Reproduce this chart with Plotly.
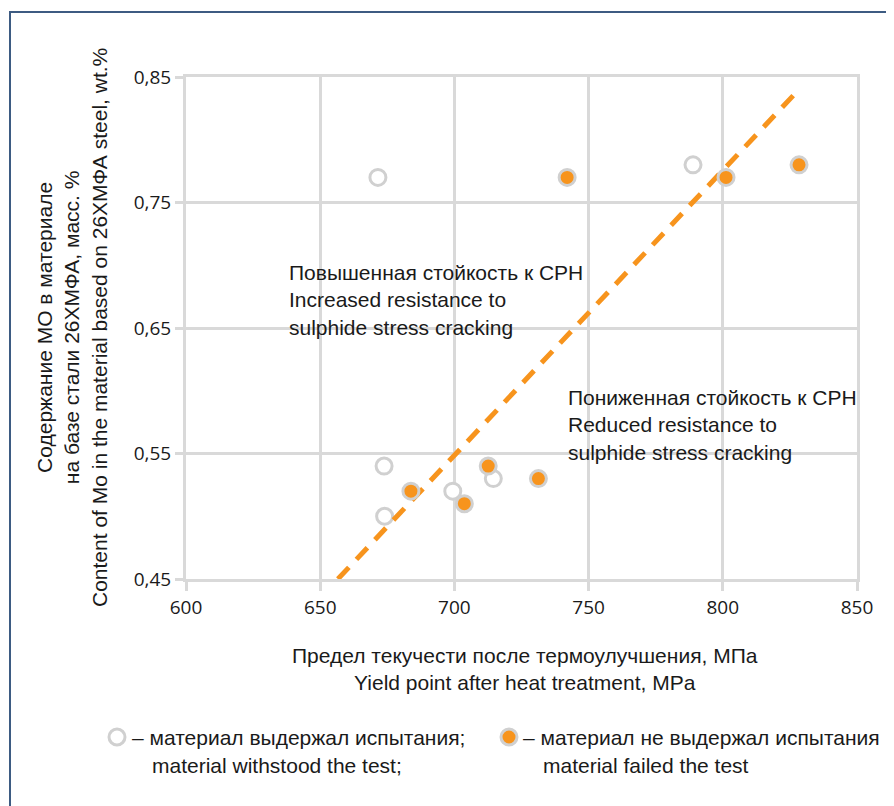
import plotly.graph_objects as go

# Data
withstood_x = [671.5, 788.9, 673.8, 674.0, 699.4, 714.5]
withstood_y = [0.77, 0.78, 0.54, 0.50, 0.52, 0.53]

failed_x = [742.0, 801.2, 828.4, 712.6, 683.8, 703.7, 731.3]
failed_y = [0.77, 0.77, 0.78, 0.54, 0.52, 0.51, 0.53]

trend_x = [656.6, 828.8]
trend_y = [0.45, 0.841]

x_ticks = [600, 650, 700, 750, 800, 850]
y_ticks = [0.45, 0.55, 0.65, 0.75, 0.85]
y_tick_labels = ["0,45", "0,55", "0,65", "0,75", "0,85"]

ORANGE = "#F7941D"
GRID = "#D9D9D9"
RING = "#D0D0D0"
TXT = "#1a1a1a"
NARROW = "Liberation Sans Narrow, Arial Narrow, sans-serif"
TICKF = "Open Sans, Noto Sans, sans-serif"

fig = go.Figure()

fig.add_trace(go.Scatter(
    x=withstood_x, y=withstood_y, mode="markers",
    marker=dict(size=16, color="white", line=dict(color=RING, width=3)),
    showlegend=False, hoverinfo="skip"))

fig.add_trace(go.Scatter(
    x=trend_x, y=trend_y, mode="lines",
    line=dict(color=ORANGE, width=5, dash="16px,11px"),
    showlegend=False, hoverinfo="skip"))

fig.add_trace(go.Scatter(
    x=failed_x, y=failed_y, mode="markers",
    marker=dict(size=16, color=ORANGE, line=dict(color=RING, width=3)),
    showlegend=False, hoverinfo="skip"))

# page body has an 8px margin; figure is placed at (8, 8)
OFF = 8
W, H = 894 - OFF, 806 - OFF
L, T = 186 - OFF, 77 - OFF
R, B = 37, 227
pw, ph = W - L - R, H - T - B

def px(xp):
    return (xp - OFF - L) / pw

def py(yp):
    return (H - B - (yp - OFF)) / ph

annotations = [
    dict(x=637.6, y=0.672, xref="x", yref="y", xanchor="left", yanchor="middle",
         align="left", showarrow=False,
         text="Повышенная стойкость к СРН<br>Increased resistance to<br>sulphide stress cracking",
         font=dict(family=NARROW, size=21, color=TXT)),
    dict(x=741.6, y=0.5727, xref="x", yref="y", xanchor="left", yanchor="middle",
         align="left", showarrow=False,
         text="Пониженная стойкость к СРН<br>Reduced resistance to<br>sulphide stress cracking",
         font=dict(family=NARROW, size=21, color=TXT)),
    dict(x=px(72), y=py(328), xref="paper", yref="paper", xanchor="center", yanchor="middle",
         textangle=-90, showarrow=False, align="center",
         text="Содержание МО в материале<br>на базе стали 26ХМФА, масс. %<br>Content of Mo in the material based on 26ХМФА steel, wt.%",
         font=dict(family=NARROW, size=21, color=TXT)),
    dict(x=px(525), y=py(669), xref="paper", yref="paper", xanchor="center", yanchor="middle",
         showarrow=False, align="center",
         text="Предел текучести после термоулучшения, МПа<br>Yield point after heat treatment, MPa",
         font=dict(family=NARROW, size=21, color=TXT)),
    dict(x=px(130), y=py(737), xref="paper", yref="paper", xanchor="left", yanchor="middle",
         showarrow=False, text="– материал выдержал испытания;",
         font=dict(family=NARROW, size=21, color=TXT)),
    dict(x=px(150), y=py(765), xref="paper", yref="paper", xanchor="left", yanchor="middle",
         showarrow=False, text="material withstood the test;",
         font=dict(family=NARROW, size=21, color=TXT)),
    dict(x=px(521), y=py(737), xref="paper", yref="paper", xanchor="left", yanchor="middle",
         showarrow=False, text="– материал не выдержал испытания",
         font=dict(family=NARROW, size=21, color=TXT)),
    dict(x=px(541), y=py(765), xref="paper", yref="paper", xanchor="left", yanchor="middle",
         showarrow=False, text="material failed the test",
         font=dict(family=NARROW, size=21, color=TXT)),
]

shapes = [
    # outer frame (left and top edges visible)
    dict(type="rect", xref="paper", yref="paper", x0=px(10), x1=px(1000), y0=py(1000), y1=py(12),
         line=dict(color="#3d5b82", width=2), fillcolor="rgba(0,0,0,0)", layer="below"),
    # legend markers
    dict(type="circle", xref="paper", yref="paper", xsizemode="pixel", ysizemode="pixel",
         xanchor=px(117), yanchor=py(737), x0=-8, x1=8, y0=-8, y1=8,
         line=dict(color=RING, width=3), fillcolor="white"),
    dict(type="circle", xref="paper", yref="paper", xsizemode="pixel", ysizemode="pixel",
         xanchor=px(509), yanchor=py(737), x0=-8, x1=8, y0=-8, y1=8,
         line=dict(color=RING, width=3), fillcolor=ORANGE),
]

fig.update_layout(
    width=W, height=H,
    margin=dict(l=L, r=R, t=T, b=B),
    paper_bgcolor="white", plot_bgcolor="white",
    showlegend=False,
    annotations=annotations,
    shapes=shapes,
    xaxis=dict(range=[600, 850], tickvals=x_ticks, ticktext=[str(v) for v in x_ticks],
               showgrid=True, gridcolor=GRID, gridwidth=3,
               showline=True, linecolor=GRID, linewidth=3, mirror=True,
               ticks="outside", ticklen=9, tickwidth=3, tickcolor=GRID,
               tickfont=dict(family=TICKF, size=19, color=TXT), zeroline=False),
    yaxis=dict(range=[0.45, 0.85], tickvals=y_ticks, ticktext=y_tick_labels,
               showgrid=True, gridcolor=GRID, gridwidth=3,
               showline=True, linecolor=GRID, linewidth=3, mirror=True,
               ticks="outside", ticklen=8, tickwidth=3, tickcolor=GRID,
               tickfont=dict(family=TICKF, size=19, color=TXT), zeroline=False),
)

fig.write_html("out.html")
